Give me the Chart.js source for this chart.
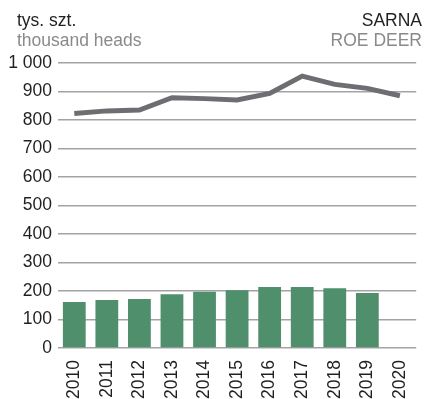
<!DOCTYPE html>
<html>
<head>
<meta charset="utf-8">
<script src="https://cdn.jsdelivr.net/npm/chart.js@4"></script>
<style>
  body { margin: 0; background: #fff; }
  #wrap { position: relative; width: 425px; height: 399px; font-family: "Liberation Sans", Arial, sans-serif; }
  .t { position: absolute; font-size: 17.5px; line-height: 20px; white-space: nowrap; }
</style>
</head>
<body>
<div id="wrap">
  <canvas id="c" width="425" height="399"></canvas>
  <div class="t" style="left:17px;top:10px;color:#231f20">tys. szt.</div>
  <div class="t" style="left:17px;top:30px;color:#8a8a8a">thousand heads</div>
  <div class="t" style="right:3px;top:10px;color:#231f20">SARNA</div>
  <div class="t" style="right:3px;top:30px;color:#8a8a8a">ROE DEER</div>
</div>
<script>
// data
var years = ['2010', '2011', '2012', '2013', '2014', '2015', '2016', '2017', '2018', '2019', '2020'];
var bars = [161, 168, 172, 189, 197, 203, 214, 214, 210, 193, null];
var line = [823, 832, 835, 878, 875, 870, 893, 954, 925, 911, 885];

var ctx = document.getElementById('c').getContext('2d');
new Chart(ctx, {
    data: {
        labels: years,
        datasets: [
            {
                type: 'line',
                data: line,
                borderColor: '#6d6e71',
                borderWidth: 5,
                pointRadius: 0,
                tension: 0,
                order: 0
            },
            {
                type: 'bar',
                data: bars,
                backgroundColor: '#4f8f6c',
                categoryPercentage: 1,
                barPercentage: 0.7,
                order: 1
            }
        ]
    },
    options: {
        responsive: false,
        animation: false,
        layout: { padding: { top: 63, right: 2, left: 0, bottom: 0 } },
        plugins: { legend: { display: false }, tooltip: { enabled: false } },
        scales: {
            x: {
                grid: { display: false },
                border: { display: false },
                ticks: {
                    minRotation: 90, maxRotation: 90,
                    padding: 4,
                    color: '#231f20',
                    font: { family: 'Liberation Sans', size: 17.5 }
                },
                afterFit: function (s) { s.height = 51; }
            },
            y: {
                min: 0, max: 1000,
                ticks: {
                    stepSize: 100,
                    padding: 6,
                    color: '#231f20',
                    font: { family: 'Liberation Sans', size: 17.5 },
                    callback: function (v) { return v >= 1000 ? '1 000' : v; }
                },
                grid: { color: '#a3a3a3', lineWidth: 1.5, drawTicks: false },
                border: { display: false },
                afterFit: function (s) { s.width = 58; }
            }
        }
    }
});
</script>
</body>
</html>
